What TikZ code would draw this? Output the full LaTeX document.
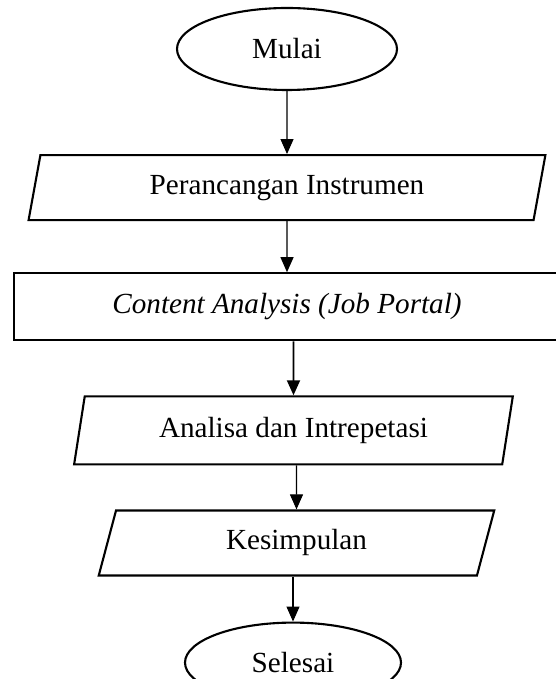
\documentclass[tikz,border=0pt]{standalone}
\usepackage{fontspec}
\setmainfont{Liberation Serif}
\usetikzlibrary{shapes.geometric, arrows.meta, positioning}
\tikzset{
    terminal/.style={ellipse, draw, line width=1.2pt, minimum width=4.4cm, minimum height=1.64cm,
                     inner sep=1pt, font=\fontsize{16.6}{20}\selectfont},
    dataio/.style={trapezium, trapezium left angle=77, trapezium right angle=103,
                   trapezium stretches=true, draw, line width=1.2pt, minimum height=1.3cm,
                   inner sep=1pt, font=\fontsize{16.6}{20}\selectfont},
    process/.style={rectangle, draw, line width=1.2pt, minimum width=10.92cm, minimum height=1.34cm,
                    inner sep=1pt, font=\fontsize{16.6}{20}\selectfont},
    arrow/.style={-{Triangle[length=0.3cm, width=0.26cm]}, line width=0.6pt}
}

\begin{document}
\begin{tikzpicture}
    \useasboundingbox (0,0) rectangle (11.1,-13.58);

    % Start
    \node[terminal] (mulai) at (5.74,-0.98) {Mulai};

    % Steps
    \node[dataio, minimum width=10.34cm, below=1.26cm of mulai] (perancangan)
        {Perancangan Instrumen};
    \node[process, below=1.02cm of perancangan] (analisis)
        {\textit{Content Analysis (Job Portal)}};
    \node[dataio, minimum width=8.78cm, minimum height=1.36cm, below=1.08cm of analisis,
          xshift=0.13cm] (intrepetasi) {Analisa dan Intrepetasi};
    \node[dataio, minimum width=7.98cm, below=0.88cm of intrepetasi, xshift=0.06cm] (kesimpulan)
        {Kesimpulan};

    % End
    \node[terminal, minimum width=4.32cm, minimum height=1.6cm, below=0.9cm of kesimpulan,
          xshift=-0.07cm] (selesai) {Selesai};

    % Arrows
    \draw[arrow] (mulai) -- (perancangan);
    \draw[arrow] (perancangan) -- (analisis);
    \draw[arrow, line width=1.1pt] (intrepetasi |- analisis.south) -- (intrepetasi);
    \draw[arrow] (kesimpulan |- intrepetasi.south) -- (kesimpulan);
    \draw[arrow] (selesai |- kesimpulan.south) -- (selesai);
\end{tikzpicture}
\end{document}
